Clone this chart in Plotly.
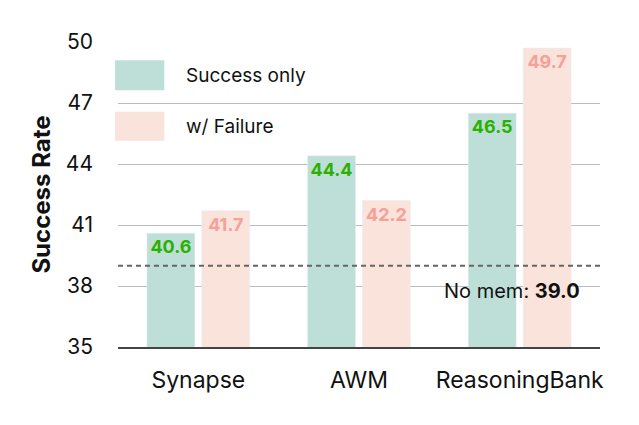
import plotly.graph_objects as go

categories = ["Synapse", "AWM", "ReasoningBank"]
success_only = [40.6, 44.4, 46.5]
with_failure = [41.7, 42.2, 49.7]
no_mem = 39.0
series_names = ["Success only", "w/ Failure"]
y_ticks = [35, 38, 41, 44, 47, 50]

C_SUCC = "#bddfd7"
C_FAIL = "#fae3da"
T_SUCC = "#2ab000"
T_FAIL = "#f5a098"
FONT = "Inter, Lato, sans-serif"

fig = go.Figure()
fig.add_trace(go.Bar(
    x=categories, y=success_only, name=series_names[0], marker_color=C_SUCC,
    text=[f"{v:.1f}" for v in success_only], textposition="inside",
    insidetextanchor="end", constraintext="none", textangle=0,
    textfont=dict(family=FONT, size=18, color=T_SUCC, weight="bold"),
    showlegend=False,
))
fig.add_trace(go.Bar(
    x=categories, y=with_failure, name=series_names[1], marker_color=C_FAIL,
    text=[f"{v:.1f}" for v in with_failure], textposition="inside",
    insidetextanchor="end", constraintext="none", textangle=0,
    textfont=dict(family=FONT, size=18, color=T_FAIL, weight="bold"),
    showlegend=False,
))

shapes = [
    dict(type="line", xref="paper", yref="y", x0=0, x1=1, y0=no_mem, y1=no_mem,
         line=dict(color="#666666", width=2, dash="5px,4px"), layer="above"),
    # legend background
    dict(type="rect", xref="paper", yref="paper", x0=-0.02, x1=0.415, y0=0.63, y1=0.97,
         fillcolor="white", line=dict(width=0), layer="between"),
    dict(type="rect", xref="paper", yref="paper", x0=-0.006, x1=0.096, y0=0.842, y1=0.94,
         fillcolor=C_SUCC, line=dict(width=0), layer="above"),
    dict(type="rect", xref="paper", yref="paper", x0=-0.006, x1=0.096, y0=0.676, y1=0.771,
         fillcolor=C_FAIL, line=dict(width=0), layer="above"),
]

annotations = [
    dict(xref="paper", yref="paper", x=0.137, y=0.891, xanchor="left", yanchor="middle",
         text=series_names[0], showarrow=False, font=dict(family=FONT, size=19, color="#111")),
    dict(xref="paper", yref="paper", x=0.137, y=0.723, xanchor="left", yanchor="middle",
         text=series_names[1], showarrow=False, font=dict(family=FONT, size=19, color="#111")),
    dict(xref="paper", yref="y", x=0.963, y=no_mem, yshift=-25, xanchor="right", yanchor="middle",
         text=f"No mem: <b>{no_mem:.1f}</b>", showarrow=False,
         font=dict(family=FONT, size=20, color="#111")),
]

fig.update_layout(
    width=639, height=425,
    margin=dict(l=110, r=47, t=34, b=86),
    paper_bgcolor="white", plot_bgcolor="white",
    barmode="group", bargap=0.317, bargroupgap=0.127,
    font=dict(family=FONT, size=20, color="#111"),
    shapes=shapes, annotations=annotations,
    xaxis=dict(showgrid=False, showline=True, linecolor="#444", linewidth=2,
               ticks="", tickfont=dict(size=23), ticklabelstandoff=11),
    yaxis=dict(range=[35, 50], tickvals=y_ticks, showgrid=True, gridcolor="#bbbbbb",
               gridwidth=1, zeroline=False, showline=False, ticks="",
               tickfont=dict(size=21), ticklabelstandoff=24,
               title=dict(text="<b>Success Rate</b>", font=dict(size=24), standoff=8)),
)

fig.write_html("out.html")
